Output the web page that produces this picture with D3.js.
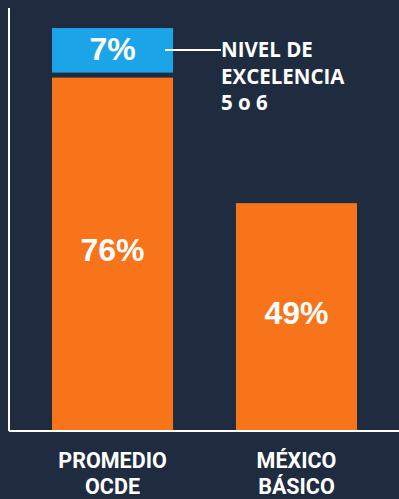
<!DOCTYPE html>
<head>
    <script src="https://cdn.jsdelivr.net/npm/d3@7"></script>
    <style>
        body { margin: 0; background: #1f2c40; }
    </style>
</head>
<body>
<svg width="399" height="499"></svg>
<script type="text/javascript">
    var categories = ["PROMEDIO OCDE", "MÉXICO BÁSICO"];
    var baseValues = [76, 49];
    var topValues = [7, 0];
    var topLabel = ["NIVEL DE", "EXCELENCIA", "5 o 6"];

    var svg = d3.select("svg"),
            width = +svg.attr("width"),
            height = +svg.attr("height");
    var axisX = 9, axisY = 431;

    svg.append("rect").attr("width", width).attr("height", height).attr("fill", "#1f2c40");

    var xScale = d3.scaleBand()
            .domain(categories)
            .range([52, 357])
            .paddingInner(0.342)
            .paddingOuter(0);
    var yScale = d3.scaleLinear()
            .domain([0, 90])
            .range([axisY, axisY - 90 * 4.65]);

    // orange bars
    svg.selectAll("rect.base")
            .data(categories)
            .enter()
            .append("rect")
            .attr("class", "base")
            .attr("x", function (d) { return xScale(d); })
            .attr("width", xScale.bandwidth())
            .attr("y", function (d, i) { return yScale(baseValues[i]); })
            .attr("height", function (d, i) { return axisY - yScale(baseValues[i]); })
            .attr("fill", "#f8741b");

    // blue top segment (label box a bit taller than its value)
    var gap = 5, extra = 12;
    var c0 = categories[0];
    var topY0 = yScale(baseValues[0] + topValues[0]) - gap - extra;
    var topY1 = yScale(baseValues[0]) - gap;
    svg.append("rect")
            .attr("x", xScale(c0))
            .attr("width", xScale.bandwidth())
            .attr("y", topY0)
            .attr("height", topY1 - topY0)
            .attr("fill", "#1ca4e8");

    // value labels
    svg.selectAll("text.val")
            .data(categories)
            .enter()
            .append("text")
            .attr("class", "val")
            .attr("x", function (d) { return xScale(d) + xScale.bandwidth() / 2; })
            .attr("y", function (d, i) { return (yScale(baseValues[i]) + axisY) / 2 + 7; })
            .attr("text-anchor", "middle")
            .attr("font-family", "Liberation Sans, Arial, sans-serif")
            .attr("font-weight", "bold")
            .attr("font-size", 32)
            .attr("fill", "#fff")
            .text(function (d, i) { return baseValues[i] + "%"; });

    svg.append("text")
            .attr("x", xScale(c0) + xScale.bandwidth() / 2)
            .attr("y", (topY0 + topY1) / 2 + 10)
            .attr("text-anchor", "middle")
            .attr("font-family", "Liberation Sans, Arial, sans-serif")
            .attr("font-weight", "bold")
            .attr("font-size", 32)
            .attr("fill", "#fff")
            .text(topValues[0] + "%");

    // connector + legend text
    svg.append("line")
            .attr("x1", xScale(c0) + xScale.bandwidth() - 8)
            .attr("x2", 221)
            .attr("y1", 50).attr("y2", 50)
            .attr("stroke", "#fff")
            .attr("stroke-width", 2);
    svg.append("text")
            .attr("font-family", "Open Sans, sans-serif")
            .attr("font-weight", "bold")
            .attr("font-size", 20.5)
            .attr("fill", "#fff")
            .selectAll("tspan")
            .data(topLabel)
            .enter()
            .append("tspan")
            .attr("x", 221)
            .attr("y", function (d, i) { return 57 + i * 26.5; })
            .text(function (d) { return d; });

    // axes
    svg.append("line")
            .attr("x1", axisX).attr("x2", axisX)
            .attr("y1", 8).attr("y2", axisY)
            .attr("stroke", "#fff").attr("stroke-width", 2);
    svg.append("line")
            .attr("x1", axisX).attr("x2", width)
            .attr("y1", axisY).attr("y2", axisY)
            .attr("stroke", "#fff").attr("stroke-width", 2);

    // category labels
    svg.selectAll("text.cat")
            .data(categories)
            .enter()
            .append("text")
            .attr("class", "cat")
            .attr("text-anchor", "middle")
            .attr("font-family", "Roboto, sans-serif")
            .attr("font-weight", "bold")
            .attr("font-size", 21.5)
            .attr("fill", "#fff")
            .each(function (d) {
                var parts = d.split(" ");
                var cx = xScale(d) + xScale.bandwidth() / 2;
                d3.select(this).selectAll("tspan")
                        .data(parts)
                        .enter()
                        .append("tspan")
                        .attr("x", cx)
                        .attr("y", function (p, i) { return 468 + i * 26; })
                        .text(function (p) { return p; });
            });
</script>
</body>
</html>
